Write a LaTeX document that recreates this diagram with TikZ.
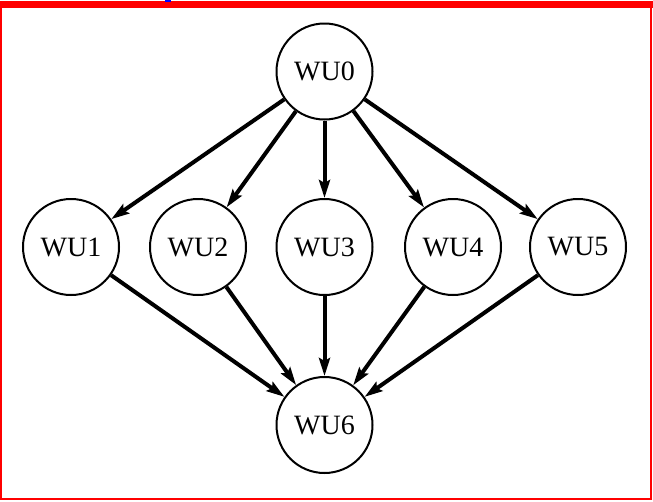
\documentclass[tikz,border=0pt]{standalone}
\usepackage{fontspec}
\setmainfont{Liberation Serif}
\usetikzlibrary{arrows.meta}
\begin{document}
\begin{tikzpicture}[x=1pt,y=-1pt,
  wu/.style={circle, draw, line width=2pt, minimum size=96pt, inner sep=0pt, font=\fontsize{28}{30}\selectfont},
  edgearrow/.style={line width=4pt, -{Stealth[length=18pt,width=11pt,inset=3pt]}}]
\useasboundingbox (0,0) rectangle (653,501);
\fill[red] (0,1) rectangle (653,8);
\draw[red, line width=2pt] (1,7) rectangle (651,498.5);
\fill[blue] (165,0) rectangle (171,1.5);
\node[wu] (wu0) at (324.5,71.5) {WU0};
\node[wu] (wu1) at (71,247) {WU1};
\node[wu] (wu2) at (198,247) {WU2};
\node[wu] (wu3) at (324.5,247) {WU3};
\node[wu] (wu4) at (453,247) {WU4};
\node[wu] (wu5) at (578,247) {WU5};
\node[wu] (wu6) at (324.5,425) {WU6};
\foreach \n in {wu1,wu2,wu3,wu4,wu5}{
  \draw[edgearrow] (wu0) -- (\n);
  \draw[edgearrow] (\n) -- (wu6);
}
\end{tikzpicture}
\end{document}
